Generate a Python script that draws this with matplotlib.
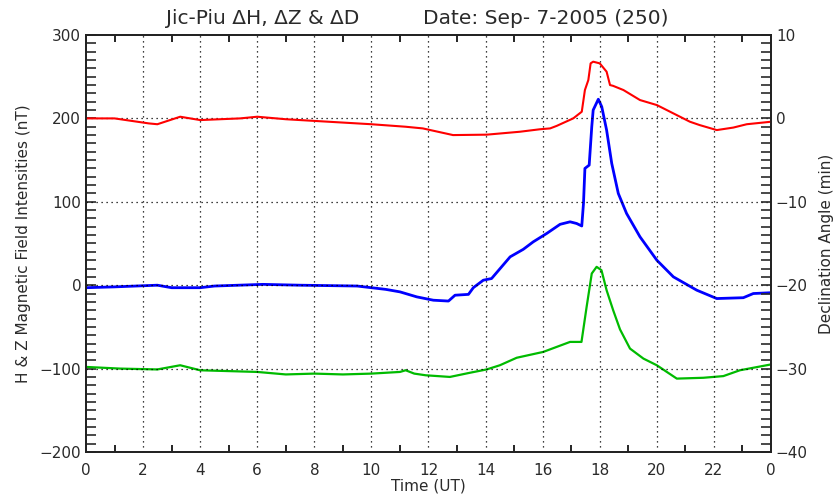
import numpy as np
import matplotlib
matplotlib.use("Agg")
import matplotlib.pyplot as plt
from matplotlib.ticker import MultipleLocator, FixedLocator, FixedFormatter

# Delta D (min), right axis
d_hours = [0, 1, 2.2, 2.5, 3.3, 4, 5.4, 6, 7, 8, 9, 10, 11.2, 11.8, 12.86, 14.04,
           15.2, 15.91, 16.26, 16.49, 17.07, 17.37, 17.48, 17.6, 17.68, 17.77, 18.0, 18.24,
           18.36, 18.47, 18.83, 19.41, 20.0, 20.58, 21.16, 21.5, 22.1, 22.68, 23.15, 24]
d_min = [0, 0, -0.6, -0.7, 0.2, -0.2, 0, 0.2, -0.1, -0.3, -0.5, -0.7, -1.0, -1.2, -2.0, -1.95,
         -1.6, -1.3, -1.2, -0.9, 0.0, 0.8, 3.4, 4.6, 6.6, 6.8, 6.6, 5.6,
         4.0, 3.9, 3.4, 2.2, 1.6, 0.6, -0.4, -0.8, -1.4, -1.1, -0.7, -0.4]

# Delta H (nT)
h_hours = [0, 1, 2.5, 3, 4, 4.5, 6.2, 7.5, 9.5, 10.5, 11.0, 11.59, 12.17, 12.7, 12.93,
           13.4, 13.57, 13.92, 14.21, 14.86, 15.32, 15.67, 16.14, 16.61, 16.96, 17.19, 17.37,
           17.43, 17.48, 17.63, 17.72, 17.77, 17.95, 18.07, 18.24, 18.42, 18.65, 18.94,
           19.41, 20.0, 20.58, 21.4, 22.1, 23.03, 23.38, 24]
h_nt = [-3, -2, 0, -3, -3, -1, 1, 0, -1, -5, -8, -14, -18, -19, -12,
        -11, -3, 6, 8, 34, 43, 52, 62, 73, 76, 74, 71,
        98, 140, 144, 190, 210, 223, 214, 186, 146, 110, 86,
        58, 30, 10, -6, -16, -15, -10, -9]

# Delta Z (nT)
z_hours = [0, 1.2, 2.5, 3.3, 4, 5, 6, 7, 8, 9, 10, 11, 11.2, 11.5, 11.9, 12.75, 13.45,
           14.04, 14.5, 15.09, 16.02, 16.49, 16.96, 17.36, 17.42, 17.54, 17.72, 17.89,
           18.06, 18.24, 18.47, 18.71, 19.06, 19.53, 20.0, 20.7, 21.63, 22.33, 22.91, 24]
z_nt = [-98, -100, -101, -96, -102, -103, -104, -107, -106, -107, -106, -104, -102, -106, -108, -110, -105,
        -101, -96, -87, -80, -74, -68, -68, -54, -26, 14, 22,
        18, -6, -30, -53, -76, -88, -96, -112, -111, -109, -102, -95]

x_ticks = list(range(0, 25, 2))
x_labels = [str(h % 24) for h in x_ticks]

TXT = "#2a2a2a"
plt.rcParams["font.family"] = ["DejaVu Sans"]

W, H = 837, 498
fig = plt.figure(figsize=(W / 100, H / 100), dpi=100)
ax = fig.add_axes([86 / W, 1 - 452 / H, 685 / W, 417 / H])
ax2 = ax.twinx()

ax.plot(h_hours, h_nt, color="#0000ff", lw=2.0)
ax.plot(z_hours, z_nt, color="#00bb00", lw=1.6)
ax2.plot(d_hours, d_min, color="#ff0000", lw=1.5)

ax.set_xlim(0, 24)
ax.set_ylim(-200, 300)
ax2.set_ylim(-40, 10)

grid_kw = dict(color="black", lw=0.9, ls=(0, (1, 3)))
for gx in range(2, 24, 2):
    ax.axvline(gx, **grid_kw)
for gy in (-100, 0, 100, 200):
    ax.axhline(gy, **grid_kw)

ax.xaxis.set_major_locator(FixedLocator(x_ticks))
ax.xaxis.set_major_formatter(FixedFormatter(x_labels))
ax.xaxis.set_minor_locator(FixedLocator(list(range(1, 24, 2))))
ax.tick_params(axis="x", which="major", length=0, pad=8, labelsize=11, colors=TXT)
ax.tick_params(axis="x", which="minor", length=5, width=1.2, direction="in", top=True)

ax.yaxis.set_major_locator(MultipleLocator(100))
ax.yaxis.set_minor_locator(MultipleLocator(10))
ax.tick_params(axis="y", which="both", length=7.5, width=1.2, direction="in", labelsize=11, colors=TXT)

ax2.yaxis.set_major_locator(MultipleLocator(10))
ax2.yaxis.set_minor_locator(MultipleLocator(1))
ax2.tick_params(axis="y", which="both", length=7.5, width=1.2, direction="in", labelsize=11, colors=TXT)

for a in (ax, ax2):
    for s in a.spines.values():
        s.set_linewidth(1.3)
        s.set_color("#222222")

ax.set_xlabel("Time (UT)", fontsize=11, color=TXT, labelpad=0)
ax.set_ylabel("H & Z Magnetic Field Intensities (nT)", fontsize=11, color=TXT, labelpad=6)
ax2.set_ylabel("Declination Angle (min)", fontsize=11, color=TXT, labelpad=8)

fig.text(166 / W, 1 - 18 / H, "Jic-Piu \u0394H, \u0394Z & \u0394D", fontsize=14.5,
         color=TXT, ha="left", va="center")
fig.text(423 / W, 1 - 18 / H, "Date: Sep- 7-2005 (250)", fontsize=14.5,
         color=TXT, ha="left", va="center")

fig.savefig("out.png", dpi=100)
